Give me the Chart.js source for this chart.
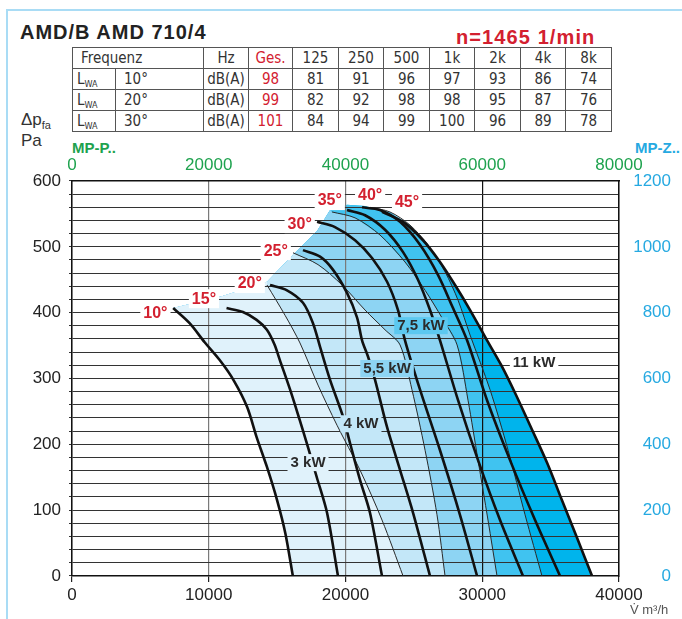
<!DOCTYPE html>
<html><head><meta charset="utf-8">
<script src="https://cdn.jsdelivr.net/npm/chart.js@4.4.1/dist/chart.umd.min.js"></script>
<style>
html,body{margin:0;padding:0;background:#fff;}
body{width:682px;height:619px;position:relative;overflow:hidden;font-family:"Liberation Sans",Arial,sans-serif;color:#222;}
#c{position:absolute;left:0;top:0;}
.t{position:absolute;white-space:nowrap;}
#frameL{position:absolute;left:6px;top:9px;width:2px;height:620px;background:#a9dcf5;}
#frameT{position:absolute;left:6px;top:9px;width:680px;height:2px;background:#a9dcf5;}
table{position:absolute;left:72px;top:47px;border-collapse:collapse;font-family:"Liberation Sans Narrow","DejaVu Sans Condensed",sans-serif;font-size:15px;color:#333;table-layout:fixed;}
td{border:1px solid #555;height:20px;max-height:20px;padding:0;text-align:center;line-height:20px;overflow:hidden;box-sizing:border-box;}
tr{height:21px;}
td.l{text-align:left;padding-left:8px;}
td.r{color:#d3202f;}
td sub{font-size:9px;line-height:0;vertical-align:-3px;}
</style></head>
<body>
<div id="frameL"></div><div id="frameT"></div>
<div class="t" id="title" style="left:20px;top:22px;font-size:20px;font-weight:bold;letter-spacing:1px;line-height:21px;color:#222;">AMD/B AMD 710/4</div>
<div class="t" id="rpm" style="left:456px;top:27px;font-size:20px;font-weight:bold;letter-spacing:1.1px;line-height:21px;color:#d3202f;">n=1465 1/min</div>
<table id="tbl"></table>
<div class="t" style="left:21px;top:110px;font-size:17px;color:#333;">Δp<sub style="font-size:11px;vertical-align:-4px;line-height:0;">fa</sub></div>
<div class="t" style="left:21px;top:131px;font-size:17px;color:#333;">Pa</div>
<div class="t" style="left:72px;top:139px;font-size:15px;font-weight:bold;color:#1ea24e;">MP-P..</div>
<div class="t" style="right:2px;top:139px;font-size:15px;font-weight:bold;color:#26a9e1;">MP-Z..</div>
<canvas id="c" width="682" height="619"></canvas>
<div class="t" style="left:630px;top:602px;font-size:13px;color:#555;">V̇ m³/h</div>
<script>
// ---------- table data ----------
const freqHead = ['Hz','Ges.','125','250','500','1k','2k','4k','8k'];
const angleRows = ['10°','20°','30°'];
const lwa10 = [98,81,91,96,97,93,86,74];
const lwa20 = [99,82,92,98,98,95,87,76];
const lwa30 = [101,84,94,99,100,96,89,78];

// ---------- axis ticks ----------
const flowMax = 40000, flowStep = 10000;
const mpMax = 80000, mpStep = 20000;
const pMax = 600, pStep = 20, pLabelStep = 100;
const mzMax = 1200, mzStep = 200;

// ---------- blade-angle curves (m3/h, Pa) ----------
const c10v = [7400,8600,9700,10800,11800,12800,13500,14250,15000,15600,16150];
const c10p = [407,384,355,328,298,257,211,166,115,65,0];
const c15v = [11300,12500,13500,14250,14800,15200,15950,16650,17250,17900,18650,19450];
const c15p = [407,401,389,374,352,328,283,237,196,150,96,0];
const c20v = [14480,15720,16890,17620,18140,18870,19820,20330,21060,21790,22670];
const c20p = [442,434,415,384,348,298,242,202,146,96,0];
const c25v = [16890,18140,19090,20110,20840,21210,21650,22160,23040,23990,24940,26180];
const c25p = [495,485,465,430,393,358,333,298,226,161,96,0];
const c30v = [17920,19230,20700,21940,23040,23840,24350,25450,26910,28370,29620];
const c30p = [538,530,510,483,447,404,358,283,191,93,0];
const c35v = [20110,21430,22890,24210,25300,26180,26910,28230,29690,31300,32980];
const c35p = [556,548,526,492,450,404,358,267,176,85,0];
const c40v = [21210,22520,23990,25450,26770,27860,28890,30350,32030,33860,35690];
const c40p = [560,556,538,503,457,407,358,267,176,85,0];
const c45v = [22670,24210,25670,26910,28010,29110,30350,31370,32400,33490,34740,35830,36930,38030];
const c45p = [553,538,510,477,442,404,358,321,278,229,172,115,58,0];

// ---------- thin motor-power boundary lines ----------
const t1v = [14260,15580,16670,17990,19380,21060,22670,24210];
const t1p = [442,396,354,290,229,161,85,0];
const t2v = [16160,17990,19750,21430,22890,23990,24860,25820,26690,27280];
const t2p = [491,473,442,404,374,351,283,191,93,0];
const t3v = [19010,20700,22520,24350,25820,27060,28160,28960,29690,30420,31080];
const t3p = [553,544,518,477,434,392,351,267,176,85,0];
const t4v = [21790,23250,24720,26030,27280,28230,29110,30570,31890,33130,34370];
const t4p = [560,553,533,503,462,419,366,283,191,93,0];

// ---------- upper edge of the shaded field ----------
const envV = [7400,10970,14260,16160,17920,18870,20110,21430];
const envP = [407,425,447,488,524,556,564,562];

// ---------- labels ----------
const angleNames = ['10°','15°','20°','25°','30°','35°','40°','45°'];
const angleLabV = [6100,9650,13000,14900,16650,18850,21800,24500];
const angleLabP = [400,422,445,495,536,571,579,568];
const kwNames = ['3 kW','4 kW','5,5 kW','7,5 kW','11 kW'];
const kwLabV = [17260,21130,23040,25520,33790];
const kwLabP = [173,232,316,381,326];

// ---------- build table ----------
(function(){
  const tb = document.getElementById('tbl');
  const widths = [43,88,45,44,46,45,46,45,46,45,46];
  let cg = '<colgroup>' + widths.map(w=>'<col style="width:'+w+'px">').join('') + '</colgroup>';
  let h = '<tr><td class="l" colspan="2">Frequenz</td>' + freqHead.map((s,i)=>'<td'+(i===1?' class="r"':'')+'>'+s+'</td>').join('') + '</tr>';
  const rows = [lwa10,lwa20,lwa30];
  rows.forEach((r,k)=>{
    h += '<tr><td class="l" style="padding-left:4px">L<sub>WA</sub></td><td class="l">'+angleRows[k]+'</td><td>dB(A)</td>' +
      r.map((v,i)=>'<td'+(i===0?' class="r"':'')+'>'+v+'</td>').join('') + '</tr>';
  });
  tb.innerHTML = cg + h;
})();

// ---------- chart ----------
function pts(v,p){ return v.map((x,i)=>({x:x,y:p[i]})); }
function rev(a){ return a.slice().reverse(); }
const c10 = pts(c10v,c10p);
const bottomLeft = rev(c10);
function poly(envCount, edge){
  return pts(envV.slice(0,envCount), envP.slice(0,envCount)).concat(edge, bottomLeft);
}
const blades = [[c10v,c10p],[c15v,c15p],[c20v,c20p],[c25v,c25p],[c30v,c30p],[c35v,c35p],[c40v,c40p],[c45v,c45p]];
const thins = [[t1v,t1p],[t2v,t2p],[t3v,t3p],[t4v,t4p]];

const datasets = [];
blades.forEach(b=>datasets.push({data:pts(b[0],b[1]),borderColor:'#111',borderWidth:2.6,tension:0.3,pointRadius:0,fill:false}));
thins.forEach(b=>datasets.push({data:pts(b[0],b[1]),borderColor:'#2a2a2a',borderWidth:1,tension:0.3,pointRadius:0,fill:false}));
const polys = [
  [poly(3, pts(t1v,t1p)), '#e0f2fb'],
  [poly(4, pts(t2v,t2p)), '#c3e7f8'],
  [poly(6, pts(t3v,t3p)), '#8dd4f3'],
  [poly(8, pts(t4v,t4p)), '#40c3f0'],
  [poly(8, pts(c45v,c45p)), '#00b4ec']
];
polys.forEach(p=>datasets.push({data:p[0],borderColor:'rgba(0,0,0,0)',borderWidth:0,backgroundColor:p[1],tension:0,pointRadius:0,fill:'shape'}));

const FONT = '"Liberation Sans", Arial, sans-serif';
const labelPlugin = {
  id:'labels',
  afterDraw(chart){
    const ctx = chart.ctx, xs = chart.scales.x, ys = chart.scales.y;
    ctx.save();
    ctx.textAlign='center'; ctx.textBaseline='middle';
    ctx.font = 'bold 16px ' + FONT;
    angleNames.forEach((t,i)=>{
      const x = xs.getPixelForValue(angleLabV[i]), y = ys.getPixelForValue(angleLabP[i]);
      const w = ctx.measureText(t).width;
      ctx.fillStyle='#fff'; ctx.fillRect(x-w/2-3,y-9,w+6,19);
      ctx.fillStyle='#d3202f'; ctx.fillText(t,x,y+1);
    });
    const kwBg = ['#e0f2fb','#c3e7f8','#8dd4f3','#5cc8f0','#ffffff'];
    ctx.font = 'bold 15px ' + FONT;
    kwNames.forEach((t,i)=>{
      const x = xs.getPixelForValue(kwLabV[i]), y = ys.getPixelForValue(kwLabP[i]);
      const w = ctx.measureText(t).width;
      ctx.fillStyle=kwBg[i]; ctx.fillRect(x-w/2-3,y-8,w+6,17);
      ctx.fillStyle='#2b2b2b'; ctx.fillText(t,x,y+1);
    });
    ctx.restore();
  }
};

new Chart(document.getElementById('c'), {
  type:'line',
  data:{datasets:datasets},
  plugins:[labelPlugin],
  options:{
    responsive:false, animation:false, events:[],
    layout:{padding:{top:140,left:0,right:11,bottom:0}},
    plugins:{legend:{display:false},tooltip:{enabled:false},filler:{propagate:false,drawTime:'beforeDraw'}},
    scales:{
      x:{type:'linear',position:'bottom',min:0,max:flowMax,
         ticks:{stepSize:flowStep,autoSkip:false,maxRotation:0,color:'#222',font:{size:17,family:FONT},padding:3,callback:v=>String(v)},
         grid:{color:c=>(c.tick&&c.tick.value===30000)?'#111':'#7a7a7a',lineWidth:1.2,tickLength:6,tickColor:'#222'},
         border:{color:'#111',width:1.5},
         afterFit:s=>{s.height=43;}},
      x2:{type:'linear',position:'top',min:0,max:mpMax,
         ticks:{stepSize:mpStep,autoSkip:false,maxRotation:0,color:'#1ea24e',font:{size:17,family:FONT},padding:5,callback:v=>String(v)},
         grid:{display:false,drawTicks:false},border:{color:'#111',width:1.5},
         afterFit:s=>{s.height=41;}},
      y:{type:'linear',position:'left',min:0,max:pMax,
         ticks:{stepSize:pStep,autoSkip:false,maxTicksLimit:100,color:'#222',font:{size:17,family:FONT},padding:8,callback:v=>(v%pLabelStep===0?String(v):'')},
         grid:{color:'#333',lineWidth:1.1,tickLength:3},border:{color:'#111',width:1.5},
         afterFit:s=>{s.width=72;}},
      y2:{type:'linear',position:'right',min:0,max:mzMax,
         ticks:{stepSize:mzStep,autoSkip:false,color:'#26a9e1',font:{size:17,family:FONT},crossAlign:'far',callback:v=>String(v)},
         grid:{display:false,drawTicks:false},border:{color:'#111',width:1.5},
         afterFit:s=>{s.width=52;}}
    }
  }
});
</script>
</body></html>
